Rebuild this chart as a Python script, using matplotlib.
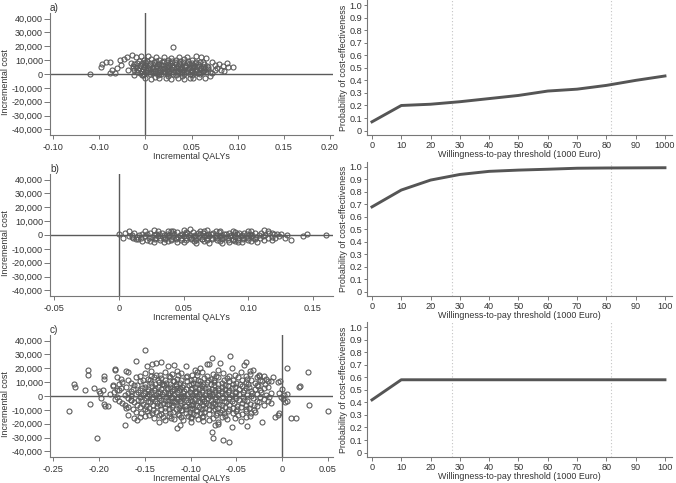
import numpy as np
import matplotlib
matplotlib.use("Agg")
import matplotlib.pyplot as plt

plt.rcParams['font.family'] = ['Liberation Sans', 'DejaVu Sans']

# bootstrap replicates read off the cost-effectiveness planes
# (incremental QALYs in 1/1000 QALY, incremental cost in 1000 Euro)
pts_a = [
    (-60, 0.0), (-47, 7.5), (-48, 5.2), (-43, 8.8), (-38, 8.6), (-36, 2.8), (-33, 1.0), (-31, 4.2),
    (-28, 9.8), (-26, 6.4), (-23, 11.0), (-20, 12.6), (-19, 3.2), (-16, 8.2), (-15, 13.4), (-10, 12.2),
    (-5, 13.0), (3, 13.2), (-3, -0.8), (6, -3.6), (10, -2.2), (15, -3.0), (22, -3.2), (28, -3.6),
    (35, -2.9), (42, -3.8), (48, -2.6), (52, -3.2), (58, -2.0), (65, -2.6), (70, -1.8), (70, 1.5),
    (72, 9.0), (75, 6.6), (78, 4.4), (80, 7.2), (82, 3.0), (85, 2.4), (88, 7.6), (90, 5.2),
    (95, 5.0), (84, 5.6), (76, 2.8), (66, 11.6), (60, 12.0), (55, 13.2), (45, 12.6), (36, 12.0),
    (28, 11.6), (20, 12.4), (12, 12.1), (30, 19.5), (0, -3.0), (-38, 0.6), (-12, -0.8), (40, -1.6),
    (25, -1.2), (15, 0.2), (63, 8.6), (68, 5.4), (72, 0.4),
    (-6, 0.8), (-1, 0.3), (3, 1.2), (8, 0.4), (12, 1.0), (17, 0.2), (21, 1.4), (26, 0.6),
    (30, 0.1), (35, 1.1), (39, 0.5), (44, 1.3), (48, 0.2), (53, 0.9), (57, 0.4), (62, 1.2),
    (-12, 3.2), (-8, 2.6), (-3, 3.4), (1, 2.8), (5, 3.6), (10, 2.5), (14, 3.1), (19, 3.8),
    (23, 2.7), (28, 3.3), (32, 2.4), (37, 3.7), (41, 2.9), (46, 3.5), (50, 2.6), (55, 3.2),
    (59, 3.9), (64, 2.7), (68, 3.4),
    (-14, 5.6), (-10, 5.0), (-5, 6.0), (-1, 5.3), (4, 5.8), (8, 4.9), (13, 5.5), (17, 6.2),
    (22, 5.1), (26, 5.7), (31, 4.8), (35, 6.1), (40, 5.4), (44, 5.9), (49, 5.0), (53, 5.6),
    (58, 6.0), (62, 5.2), (67, 5.8),
    (-9, 8.2), (-4, 7.6), (0, 8.5), (5, 7.9), (9, 8.6), (14, 7.5), (18, 8.3), (23, 8.8),
    (27, 7.7), (32, 8.4), (36, 7.9), (41, 8.7), (45, 7.6), (50, 8.2), (54, 7.8), (59, 8.5),
    (-2, 10.2), (6, 10.6), (15, 9.9), (24, 10.4), (33, 10.1), (42, 10.5), (50, 9.8),
    (0, 1.8), (10, 1.9), (20, 2.0), (30, 1.7), (40, 1.8), (50, 1.9),
    (-7, 4.3), (7, 4.2), (20, 4.4), (34, 4.3), (47, 4.1), (60, 4.4),
    (-6, 6.8), (10, 6.9), (24, 6.7), (38, 7.0), (52, 6.8), (64, 7.0),
    (-4, -0.4), (5, -0.1), (14, -0.6), (23, -0.2), (33, -0.5), (42, -0.1), (51, -0.7), (59, -0.3),
    (-9, 1.5), (1, 1.3), (6, 1.6), (15, 1.4), (24, 1.2), (33, 1.6), (42, 1.3), (51, 1.5),
    (60, 1.7), (66, 1.4),
    (-4, 2.1), (8, 2.3), (17, 2.2), (26, 2.0), (35, 2.4), (45, 2.1), (54, 2.3), (63, 2.0),
    (-13, 4.6), (-2, 4.7), (3, 4.5), (12, 4.8), (16, 4.6), (25, 4.5), (29, 4.9), (38, 4.6),
    (43, 4.7), (52, 4.5), (56, 4.8), (65, 4.6),
    (-12, 7.0), (0, 6.7), (5, 6.6), (15, 7.1), (19, 6.8), (29, 6.6), (33, 7.2), (43, 6.7),
    (47, 7.1), (57, 6.9),
    (-7, 9.4), (2, 9.1), (11, 9.5), (20, 9.2), (29, 9.6), (38, 9.3), (46, 9.4), (55, 9.0),
]

pts_b = [
    (12, 1.5), (18, 0.8), (24, 1.8), (29, 1.0), (33, 1.6), (37, 0.7), (41, 1.4), (45, 1.9),
    (49, 0.9), (53, 1.5), (57, 2.0), (61, 1.1), (65, 1.7), (69, 0.8), (73, 1.5), (77, 1.9),
    (81, 1.0), (85, 1.6), (89, 0.8), (93, 1.4), (97, 1.8), (101, 0.9), (105, 1.5), (110, 1.1),
    (116, 1.6),
    (8, -0.8), (14, -1.3), (20, -0.6), (26, -1.2), (30, -0.9), (34, -1.5), (38, -0.7), (42, -1.1),
    (46, -1.6), (50, -0.8), (54, -1.3), (58, -0.6), (62, -1.4), (66, -1.0), (70, -0.7), (74, -1.5),
    (78, -0.9), (82, -1.2), (86, -0.6), (90, -1.4), (94, -1.0), (98, -1.6), (102, -0.8), (106, -1.2),
    (111, -0.9), (118, -1.3), (124, -1.0),
    (15, -3.0), (22, -3.6), (28, -3.1), (32, -3.8), (36, -3.2), (40, -3.5), (44, -2.9), (48, -3.9),
    (52, -3.3), (56, -3.0), (60, -3.7), (64, -3.2), (68, -3.8), (72, -3.1), (76, -3.5), (80, -3.0),
    (84, -3.7), (88, -3.3), (92, -3.9), (96, -3.2), (100, -3.6), (105, -3.0), (112, -3.4),
    (0, 1.0), (3, -2.0), (5, 1.2), (8, 3.0), (10, -1.8), (20, 2.6), (27, 3.6), (27, -5.0),
    (38, 3.0), (45, -5.0), (55, 4.2), (60, -5.6), (63, 3.2), (70, -5.8), (75, 3.0), (80, -5.5),
    (88, 3.0), (95, -5.0), (100, 3.2), (107, -4.8), (112, 3.8), (115, 3.0), (118, 1.5), (122, 1.0),
    (125, 0.5), (128, -2.5), (133, -3.5), (130, 0.2), (142, -1.0), (145, 0.6), (160, 0.0), (118, -3.5),
    (13, -3.0), (18, -4.4), (50, 3.5), (85, -5.0), (35, -5.2), (68, 3.4), (92, -5.3), (42, 3.2),
    (10, 0.3), (16, 0.1), (22, 0.4), (27, 0.0), (31, 0.5), (35, 0.2), (39, -0.1), (43, 0.4),
    (47, 0.1), (51, 0.5), (55, 0.0), (59, 0.3), (63, 0.6), (67, 0.1), (71, 0.4), (75, -0.1),
    (79, 0.3), (83, 0.5), (87, 0.0), (91, 0.4), (95, 0.2), (99, 0.5), (103, 0.0), (108, 0.3),
    (113, 0.1), (120, 0.4),
    (11, -2.0), (17, -2.4), (23, -2.1), (28, -2.5), (32, -2.0), (36, -2.3), (40, -2.6), (44, -2.1),
    (48, -2.4), (52, -2.0), (56, -2.5), (60, -2.2), (64, -2.6), (68, -2.1), (72, -2.4), (76, -2.0),
    (80, -2.5), (84, -2.2), (88, -2.6), (92, -2.1), (96, -2.4), (100, -2.0), (104, -2.5), (109, -2.2),
    (115, -2.4), (121, -2.1),
    (30, 2.6), (40, 2.8), (52, 2.5), (66, 2.7), (78, 2.9), (90, 2.5), (102, 2.7),
    (24, -4.5), (38, -4.3), (50, -4.7), (58, -4.4), (66, -4.6), (78, -4.3), (90, -4.5), (102, -4.2),
]

pts_c = [
    (-233, -11), (-227, 8.5), (-226, 6.5), (-215, 4.5), (-212, 19), (-212, 15.5), (-210, -5.5),
    (-205, 6), (-202, -30), (-200, 3.5), (-198, -1.5), (-199, 2.5), (-196, 4.5), (-195, 12.5),
    (-195, 14.5), (-194, -6), (-193, -7), (-190, -7.5), (-185, 8), (-183, 19.5), (-182, 19),
    (-180, 14), (-178, 4), (-176, 12.5), (-172, -21), (-170, 18), (-168, 17.5), (-170, -9),
    (-168, -14), (-165, -3), (-162, -16), (-160, 25.5), (-158, -17), (-155, -15.5), (-150, 33.5),
    (-148, 22), (-145, -14), (-142, 23), (-138, 24), (-135, -19), (-132, 24.5), (-125, 22),
    (-118, 22.5), (-115, -23), (-112, -21), (-105, 22), (-100, -15), (-95, 19), (-90, 20.5),
    (-82, 23), (-80, 23), (-77, 27.5), (-77, -26), (-75, -30.5), (-73, -21), (-70, -20),
    (-68, 23.5), (-65, -32), (-58, -33), (-57, 28.5), (-55, -22), (-55, 20), (-45, -18),
    (-42, 22.5), (-40, 24.5), (-38, -21.5), (-35, 18), (-32, 18.5), (-25, 15), (-22, -19),
    (-20, 14.5), (-15, 10.5), (-12, 11), (-10, 13.5), (-8, -15), (-5, -14), (-5, 10), (-3, -12),
    (-2, 10.5), (0, 5), (1, -2), (2, 1), (3, -4), (5, 20), (5, -3.5), (5, 1.5), (10, -16),
    (15, -16), (18, 6.5), (19, 7.5), (28, 17.5), (29, -6.5), (50, -11), (-1, -1), (-3, 2),
    (-150, 16.5), (-138, 15.2), (-128, 17.0), (-120, 15.8), (-110, 16.8), (-98, 15.4), (-88, 17.2),
    (-75, 15.9), (-65, 16.6), (-52, 15.1), (-45, 17.1), (-35, 15.6),
    (-160, 13.5), (-147, 12.4), (-140, 13.9), (-132, 12.8), (-123, 13.6), (-115, 12.2), (-105, 13.8),
    (-96, 12.6), (-85, 13.3), (-78, 12.1), (-70, 13.9), (-60, 12.7), (-48, 13.4), (-38, 12.3),
    (-28, 13.7), (-18, 12.6),
    (-175, 10.4), (-165, 9.5), (-155, 10.8), (-143, 9.7), (-135, 10.2), (-127, 9.2), (-119, 10.9),
    (-112, 9.6), (-104, 10.5), (-97, 9.3), (-90, 10.7), (-82, 9.8), (-74, 10.3), (-66, 9.4),
    (-58, 10.8), (-50, 9.6), (-40, 10.4), (-30, 9.1), (-22, 10.6),
    (-185, 7.3), (-170, 6.4), (-158, 7.6), (-150, 6.7), (-142, 7.2), (-136, 6.2), (-129, 7.8),
    (-122, 6.5), (-116, 7.1), (-109, 6.3), (-102, 7.7), (-95, 6.6), (-88, 7.4), (-81, 6.1),
    (-74, 7.6), (-66, 6.8), (-59, 7.2), (-52, 6.3), (-44, 7.5), (-36, 6.6), (-26, 7.3), (-15, 6.5),
    (-180, 4.3), (-165, 3.5), (-155, 4.6), (-147, 3.7), (-140, 4.2), (-133, 3.2), (-126, 4.8),
    (-120, 3.6), (-113, 4.4), (-107, 3.3), (-100, 4.7), (-94, 3.8), (-87, 4.1), (-80, 3.4),
    (-73, 4.6), (-66, 3.7), (-58, 4.3), (-50, 3.2), (-42, 4.5), (-34, 3.6), (-24, 4.2),
    (-188, 1.2), (-172, 0.5), (-160, 1.6), (-152, 0.7), (-145, 1.3), (-138, 0.4), (-131, 1.8),
    (-124, 0.6), (-118, 1.1), (-111, 0.3), (-104, 1.7), (-98, 0.8), (-91, 1.4), (-84, 0.5),
    (-77, 1.6), (-70, 0.9), (-62, 1.2), (-55, 0.4), (-47, 1.5), (-38, 0.7), (-28, 1.3), (-18, 0.6),
    (-182, -2.3), (-168, -1.5), (-157, -2.6), (-149, -1.8), (-142, -2.2), (-135, -1.4), (-128, -2.8),
    (-121, -1.7), (-115, -2.4), (-108, -1.3), (-101, -2.7), (-95, -1.9), (-88, -2.1), (-81, -1.6),
    (-73, -2.5), (-66, -1.4), (-58, -2.3), (-50, -1.8), (-42, -2.6), (-32, -1.5), (-20, -2.2),
    (-175, -5.3), (-162, -4.6), (-152, -5.5), (-144, -4.4), (-137, -5.2), (-130, -4.7), (-124, -5.8),
    (-117, -4.3), (-110, -5.4), (-103, -4.6), (-97, -5.7), (-90, -4.5), (-83, -5.2), (-76, -4.8),
    (-69, -5.6), (-61, -4.4), (-53, -5.3), (-44, -4.7), (-35, -5.5), (-25, -4.5), (-12, -5.1),
    (-168, -8.2), (-155, -7.6), (-145, -8.6), (-137, -7.4), (-128, -8.3), (-120, -7.7), (-113, -8.8),
    (-105, -7.5), (-98, -8.4), (-91, -7.8), (-84, -8.6), (-77, -7.3), (-70, -8.5), (-62, -7.6),
    (-54, -8.3), (-45, -7.9), (-36, -8.7), (-27, -7.5),
    (-160, -11.2), (-148, -10.5), (-138, -11.6), (-128, -10.7), (-119, -11.4), (-110, -10.3),
    (-101, -11.8), (-93, -10.6), (-85, -11.3), (-76, -10.4), (-68, -11.7), (-59, -10.8), (-50, -11.1),
    (-40, -10.5), (-30, -11.5),
    (-150, -14.2), (-135, -13.6), (-124, -14.6), (-113, -13.4), (-103, -14.3), (-94, -13.8),
    (-86, -14.7), (-72, -13.5), (-62, -14.4), (-48, -13.7), (-35, -14.5),
    (-128, -17.2), (-118, -16.5), (-108, -17.6), (-92, -16.8), (-80, -17.3), (-60, -16.6),
    (-125, 2.5), (-110, -0.5), (-95, 2.8), (-85, -3.5), (-100, -6.5), (-115, 5.5), (-90, 8.5),
    (-105, -9.5), (-80, 1.0), (-120, -3.5), (-70, 4.5), (-130, 8.5),
    (-155, 14.6), (-143, 14.1), (-133, 15.0), (-124, 14.3), (-114, 14.8), (-104, 14.2), (-93, 14.9),
    (-82, 14.4), (-72, 14.7), (-58, 14.1), (-40, 14.6), (-25, 14.3),
    (-168, 11.6), (-152, 11.2), (-144, 11.9), (-136, 11.3), (-128, 11.7), (-118, 11.1), (-110, 11.8),
    (-100, 11.4), (-92, 11.9), (-81, 11.2), (-74, 11.6), (-64, 11.3), (-54, 11.8), (-44, 11.2),
    (-34, 11.6), (-24, 11.4),
    (-178, 8.6), (-162, 8.2), (-150, 8.9), (-139, 8.4), (-131, 8.7), (-123, 8.3), (-116, 8.8),
    (-108, 8.1), (-100, 8.6), (-93, 8.3), (-86, 8.9), (-78, 8.4), (-70, 8.7), (-62, 8.2),
    (-54, 8.8), (-46, 8.3), (-37, 8.6), (-28, 8.1), (-19, 8.7),
    (-176, 5.6), (-163, 5.2), (-153, 5.9), (-146, 5.3), (-139, 5.7), (-132, 5.1), (-125, 5.8),
    (-118, 5.4), (-112, 5.9), (-105, 5.2), (-98, 5.7), (-91, 5.3), (-84, 5.8), (-77, 5.1),
    (-70, 5.6), (-62, 5.4), (-55, 5.9), (-47, 5.2), (-39, 5.7), (-30, 5.3), (-20, 5.8),
    (-184, 2.6), (-168, 2.2), (-157, 2.9), (-150, 2.3), (-143, 2.7), (-136, 2.1), (-129, 2.8),
    (-122, 2.4), (-115, 2.9), (-108, 2.2), (-101, 2.6), (-94, 2.3), (-87, 2.8), (-80, 2.1),
    (-73, 2.7), (-66, 2.4), (-59, 2.9), (-51, 2.2), (-43, 2.6), (-33, 2.3), (-23, 2.8), (-12, 2.4),
    (-180, -0.6), (-165, -0.2), (-155, -0.9), (-148, -0.3), (-141, -0.7), (-134, -0.1), (-127, -0.8),
    (-120, -0.4), (-114, -0.9), (-107, -0.2), (-100, -0.6), (-93, -0.3), (-86, -0.8), (-79, -0.1),
    (-72, -0.7), (-65, -0.4), (-58, -0.9), (-51, -0.2), (-43, -0.6), (-34, -0.3), (-24, -0.8),
    (-14, -0.4),
    (-178, -3.6), (-165, -3.2), (-154, -3.9), (-146, -3.3), (-139, -3.7), (-132, -3.1), (-125, -3.8),
    (-118, -3.4), (-112, -3.9), (-105, -3.2), (-98, -3.6), (-92, -3.3), (-85, -3.8), (-78, -3.1),
    (-71, -3.7), (-63, -3.4), (-55, -3.9), (-47, -3.2), (-38, -3.6), (-28, -3.3), (-16, -3.8),
    (-172, -6.6), (-159, -6.2), (-149, -6.9), (-141, -6.3), (-133, -6.7), (-126, -6.1), (-119, -6.8),
    (-112, -6.4), (-106, -6.9), (-99, -6.2), (-93, -6.6), (-86, -6.3), (-80, -6.8), (-73, -6.1),
    (-66, -6.7), (-58, -6.4), (-49, -6.9), (-40, -6.2), (-31, -6.6), (-20, -6.3),
    (-163, -9.6), (-150, -9.2), (-141, -9.9), (-132, -9.3), (-124, -9.7), (-116, -9.1), (-109, -9.8),
    (-101, -9.4), (-94, -9.9), (-87, -9.2), (-80, -9.6), (-73, -9.3), (-66, -9.8), (-58, -9.1),
    (-49, -9.7), (-40, -9.4), (-31, -9.9),
    (-154, -12.6), (-142, -12.2), (-132, -12.9), (-123, -12.3), (-114, -12.7), (-105, -12.1),
    (-97, -12.8), (-89, -12.4), (-80, -12.9), (-71, -12.2), (-63, -12.6), (-54, -12.3), (-44, -12.8),
    (-34, -12.4),
    (-140, -15.6), (-130, -15.2), (-121, -15.9), (-111, -15.3), (-100, -15.7), (-88, -15.1),
    (-76, -15.8), (-66, -15.4), (-52, -15.9), (-40, -15.3),
    (-143, 17.8), (-115, 18.2), (-93, 17.6), (-70, 18.4), (-100, -18.6), (-86, -18.2), (-70, -18.8),
]

# acceptability curves
wtp = [0, 10, 20, 30, 40, 50, 60, 70, 80, 90, 100]
prob_a = [0.07, 0.20, 0.21, 0.23, 0.255, 0.28, 0.315, 0.33, 0.36, 0.40, 0.435]
prob_b = [0.68, 0.815, 0.895, 0.94, 0.965, 0.975, 0.982, 0.99, 0.992, 0.993, 0.994]
prob_c = [0.42, 0.58, 0.58, 0.58, 0.58, 0.58, 0.58, 0.58, 0.58, 0.58, 0.58]
wtp_refs = [27.2, 81.5]

qaly_ticks = [
    [-0.10, -0.05, 0, 0.05, 0.10, 0.15, 0.20],
    [-0.05, 0, 0.05, 0.10, 0.15],
    [-0.25, -0.20, -0.15, -0.10, -0.05, 0, 0.05],
]
qaly_labels = [
    ['-0.10', '-0.10', '0', '0.05', '0.10', '0.15', '0.20'],
    ['-0.05', '0', '0.05', '0.10', '0.15'],
    ['-0.25', '-0.20', '-0.15', '-0.10', '-0.05', '0', '0.05'],
]
qaly_lims = [(-0.1035, 0.2035), (-0.0531, 0.1654), (-0.2535, 0.0555)]
cost_ticks = [40000, 30000, 20000, 10000, 0, -10000, -20000, -30000, -40000]
wtp_labels = [['0', '10', '20', '30', '40', '50', '60', '70', '80', '90', '1000'],
              ['0', '10', '20', '30', '40', '50', '60', '70', '80', '90', '100'],
              ['0', '10', '20', '30', '40', '50', '60', '70', '80', '90', '100']]
panel_tags = ['a)', 'b)', 'c)']

W, H = 676, 483
fig = plt.figure(figsize=(W / 100, H / 100), dpi=100)

grey = '#5a5a5a'
txt = '#333333'
fs_tick = 6.6
fs_lab = 6.4

# pixel boxes (top, bottom) per row
left_rows = [(13, 135), (174, 296), (335, 457)]
right_rows = [(0, 135), (162, 296), (322, 457)]


def style(ax):
    for s in ['top', 'right']:
        ax.spines[s].set_visible(False)
    for s in ['left', 'bottom']:
        ax.spines[s].set_color('#777777')
        ax.spines[s].set_linewidth(0.8)
    ax.tick_params(width=0.7, color='#777777', labelsize=fs_tick, labelcolor=txt)


for i, pts in enumerate([pts_a, pts_b, pts_c]):
    top, bot = left_rows[i]
    ax = fig.add_axes([50 / W, 1 - bot / H, 283 / W, (bot - top) / H])
    arr = np.array(pts, dtype=float)
    q = arr[:, 0] / 1000
    c = arr[:, 1] * 1000
    ax.axhline(0, color=grey, lw=1.0, zorder=1)
    ax.axvline(0, color=grey, lw=1.0, zorder=1)
    ax.plot(q, c, 'o', ms=3.6, mfc='none', mec='#5c5c5c', mew=0.8, zorder=2)
    ax.set_xlim(*qaly_lims[i])
    ax.set_ylim(-44000, 44000)
    ax.set_xticks(qaly_ticks[i])
    ax.set_xticklabels(qaly_labels[i])
    ax.set_yticks(cost_ticks)
    ax.set_yticklabels(['{:,}'.format(v) for v in cost_ticks])
    style(ax)
    ax.tick_params(axis='y', length=4, pad=1)
    ax.tick_params(axis='x', length=3, pad=2.5)
    ax.set_xlabel('Incremental QALYs', fontsize=fs_lab, color=txt, labelpad=0)
    ax.set_ylabel('Incremental cost', fontsize=fs_lab, color=txt)
    ax.yaxis.set_label_coords((10 - 50) / 283, 0.43)
    ax.text(0.0, 1.0, panel_tags[i], transform=ax.transAxes, fontsize=fs_tick + 0.6,
            color=txt, ha='left', va='bottom')

for i, prob in enumerate([prob_a, prob_b, prob_c]):
    top, bot = right_rows[i]
    ax = fig.add_axes([367 / W, 1 - bot / H, 305 / W, (bot - top) / H])
    for r in wtp_refs:
        ax.axvline(r, color='#c4c4c4', lw=0.8, ls=(0, (1, 2)), zorder=1)
    ax.plot(wtp, prob, color='#555555', lw=2.1, zorder=2)
    ax.set_xlim(-1.7, 102.4)
    ax.set_ylim(-0.035, 1.04)
    ax.set_xticks(wtp)
    ax.set_xticklabels(wtp_labels[i])
    ax.set_yticks(np.arange(0, 11) / 10)
    ax.set_yticklabels(['0'] + ['0.{}'.format(k) for k in range(1, 10)] + ['1.0'])
    style(ax)
    ax.tick_params(axis='y', length=2.5, pad=1)
    ax.tick_params(axis='x', length=3, pad=1)
    ax.set_xlabel('Willingness-to-pay threshold (1000 Euro)', fontsize=fs_lab, color=txt,
                  labelpad=0)
    ax.set_ylabel('Probability of cost-effectiveness', fontsize=fs_lab, color=txt)
    ax.yaxis.set_label_coords((348 - 367) / 305, 0.5)

fig.savefig('out.png', dpi=100)
